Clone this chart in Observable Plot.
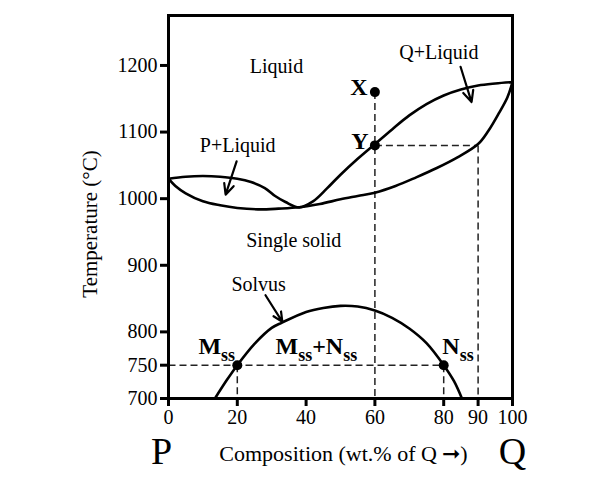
<!DOCTYPE html>
<html>
<head>
<meta charset="utf-8">
<script src="https://cdn.jsdelivr.net/npm/d3@7"></script>
<script src="https://cdn.jsdelivr.net/npm/@observablehq/plot@0.6"></script>
<style>
  html, body { margin: 0; padding: 0; background: #fff; }
  svg { display: block; }
  svg text { font-family: "Liberation Serif", "Times New Roman", serif; }
</style>
</head>
<body>
<div id="chart"></div>
<script>
// Tick labels
const xTicks = [0, 20, 40, 60, 80, 90, 100];
const yTicks = [700, 750, 800, 900, 1000, 1100, 1200];

// Liquidus (upper curve), composition wt.% Q vs temperature °C
const liquidusX = [0, 5, 10, 15, 20, 24, 28, 31, 34, 38, 42, 46, 50, 55, 60, 65, 70, 75, 80, 85, 90, 95, 100];
const liquidusT = [1030, 1033, 1034, 1033, 1030, 1025, 1016, 1004, 995, 987, 996, 1015, 1036, 1060, 1082, 1104, 1125, 1142, 1155, 1164, 1170, 1173, 1175];

// Solidus (lower curve)
const solidusX = [0, 2, 5, 10, 15, 20, 26, 32, 38, 44, 50, 55, 60, 66, 72, 78, 84, 90, 93, 96, 98.5, 100];
const solidusT = [1030, 1019, 1008, 996, 990, 986, 984, 985, 987, 992, 999, 1004, 1009, 1019, 1032, 1046, 1062, 1082, 1102, 1128, 1152, 1175];

// Solvus dome
const solvusX = [13.5, 17, 20, 25, 30, 33, 40, 45, 50, 55, 60, 65, 70, 75, 80, 83, 85.3];
const solvusT = [700, 728, 750, 782, 806, 814, 830, 836, 839, 838, 832, 821, 805, 783, 750, 726, 700];

// Marked points
const pointNames = ["X", "Y", "Mss", "Nss"];
const pointX = [60, 60, 20, 80];
const pointT = [1160, 1080, 750, 750];

// Dashed guide lines (composition / temperature endpoints)
const guideX1 = [0, 20, 80, 60, 60, 90];
const guideT1 = [750, 750, 750, 1160, 1080, 1080];
const guideX2 = [80, 20, 80, 60, 90, 90];
const guideT2 = [750, 700, 700, 700, 1080, 700];

// Region labels
const labelText = ["Liquid", "Q+Liquid", "P+Liquid", "Single solid", "Solvus"];
const labelX = [31.4, 78.6, 20.1, 36.4, 26.2];
const labelT = [1189, 1209, 1070, 927, 861];

// Bold point labels, right-aligned
const endText = ["X", "Y"];
const endX = [57.9, 58.2];
const endT = [1155, 1075];

// Bold phase labels with subscripts, left-aligned
const startText = ["M_{ss}", "M_{ss}+N_{ss}", "N_{ss}"];
const startX = [8.7, 31.1, 79.6];
const startT = [767, 767, 767];

// Pointer arrows (from label to region)
const arrowX1 = [19.8, 84.9, 28.2];
const arrowT1 = [1056, 1198, 855];
const arrowX2 = [16.6, 88.1, 33.1];
const arrowT2 = [1006, 1145, 815];

const zip = (xs, ys) => xs.map((x, i) => ({x, y: ys[i]}));
const liquidus = zip(liquidusX, liquidusT);
const solidus = zip(solidusX, solidusT);
const solvus = zip(solvusX, solvusT);
const points = pointNames.map((n, i) => ({n, x: pointX[i], y: pointT[i]}));
const guides = guideX1.map((x1, i) => ({x1, y1: guideT1[i], x2: guideX2[i], y2: guideT2[i]}));
const labels = labelText.map((t, i) => ({t, x: labelX[i], y: labelT[i]}));
const endLabels = endText.map((t, i) => ({t, x: endX[i], y: endT[i]}));
const startLabels = startText.map((t, i) => ({t, x: startX[i], y: startT[i]}));
const arrows = arrowX1.map((x1, i) => ({x1, y1: arrowT1[i], x2: arrowX2[i], y2: arrowT2[i]}));

const font = '"Liberation Serif", "Times New Roman", serif';

const plot = Plot.plot({
  width: 600,
  height: 482,
  marginLeft: 168,
  marginRight: 88,
  marginTop: 15,
  marginBottom: 84,
  style: {fontFamily: font, color: "#000", background: "#fff", overflow: "visible"},
  x: {domain: [0, 100]},
  y: {domain: [700, 1275]},
  marks: [
    Plot.link(guides, {x1: "x1", y1: "y1", x2: "x2", y2: "y2", stroke: "#222", strokeWidth: 1.5, strokeDasharray: "7,4"}),
    Plot.line(liquidus, {x: "x", y: "y", curve: "catmull-rom", stroke: "#000", strokeWidth: 2.6}),
    Plot.line(solidus, {x: "x", y: "y", curve: "catmull-rom", stroke: "#000", strokeWidth: 2.6}),
    Plot.line(solvus, {x: "x", y: "y", curve: "catmull-rom", stroke: "#000", strokeWidth: 2.6}),
    Plot.arrow(arrows, {x1: "x1", y1: "y1", x2: "x2", y2: "y2", stroke: "#000", strokeWidth: 2.2, headLength: 12, headAngle: 50}),
    Plot.dot(points, {x: "x", y: "y", r: 5, fill: "#000"}),
    Plot.text(labels, {x: "x", y: "y", text: "t", fontSize: 20, lineAnchor: "bottom", textAnchor: "middle", fill: "#000"}),
    Plot.text(endLabels, {x: "x", y: "y", text: "t", fontSize: 24, fontWeight: "bold", lineAnchor: "bottom", textAnchor: "end", fill: "#000"}),
    Plot.text(startLabels, {x: "x", y: "y", text: "t", fontSize: 24, fontWeight: "bold", lineAnchor: "bottom", textAnchor: "start", fill: "#000"}),
    Plot.frame({stroke: "#000", strokeWidth: 3}),
    Plot.axisX({ticks: xTicks, tickSize: 8, strokeWidth: 3, tickPadding: 3, fontSize: 20, label: null, tickFormat: d => String(d)}),
    Plot.axisY({ticks: yTicks, tickSize: 8, strokeWidth: 3, tickPadding: 3, fontSize: 20, label: null, tickFormat: d => String(d)}),
    Plot.text(["Composition (wt.% of Q \u279E)"], {frameAnchor: "bottom", lineAnchor: "bottom", textAnchor: "middle", dy: 62, dx: 3, fontSize: 22, fill: "#000"}),
    Plot.text(["Temperature (\u00B0C)"], {frameAnchor: "left", rotate: -90, textAnchor: "middle", dx: -78, dy: 17, fontSize: 21, fill: "#000"}),
    Plot.text(["P"], {frameAnchor: "bottom-left", lineAnchor: "bottom", textAnchor: "middle", dx: -7, dy: 65, fontSize: 38, fill: "#000"}),
    Plot.text(["Q"], {frameAnchor: "bottom-right", lineAnchor: "bottom", textAnchor: "middle", dx: 0, dy: 65, fontSize: 38, fill: "#000"})
  ]
});

// Render subscripts written as _{...}
d3.select(plot).selectAll("text").each(function () {
  const t = this.textContent;
  if (!t.includes("_{")) return;
  const parts = t.split(/(_\{[^}]*\})/).filter(p => p);
  const sel = d3.select(this);
  sel.text(null);
  let down = false;
  for (const p of parts) {
    if (p.startsWith("_{")) {
      sel.append("tspan").attr("dy", 7).attr("font-size", 18).text(p.slice(2, -1));
      down = true;
    } else {
      sel.append("tspan").attr("dy", down ? -7 : 0).text(p);
      down = false;
    }
  }
});

document.getElementById("chart").appendChild(plot);
</script>
</body>
</html>
